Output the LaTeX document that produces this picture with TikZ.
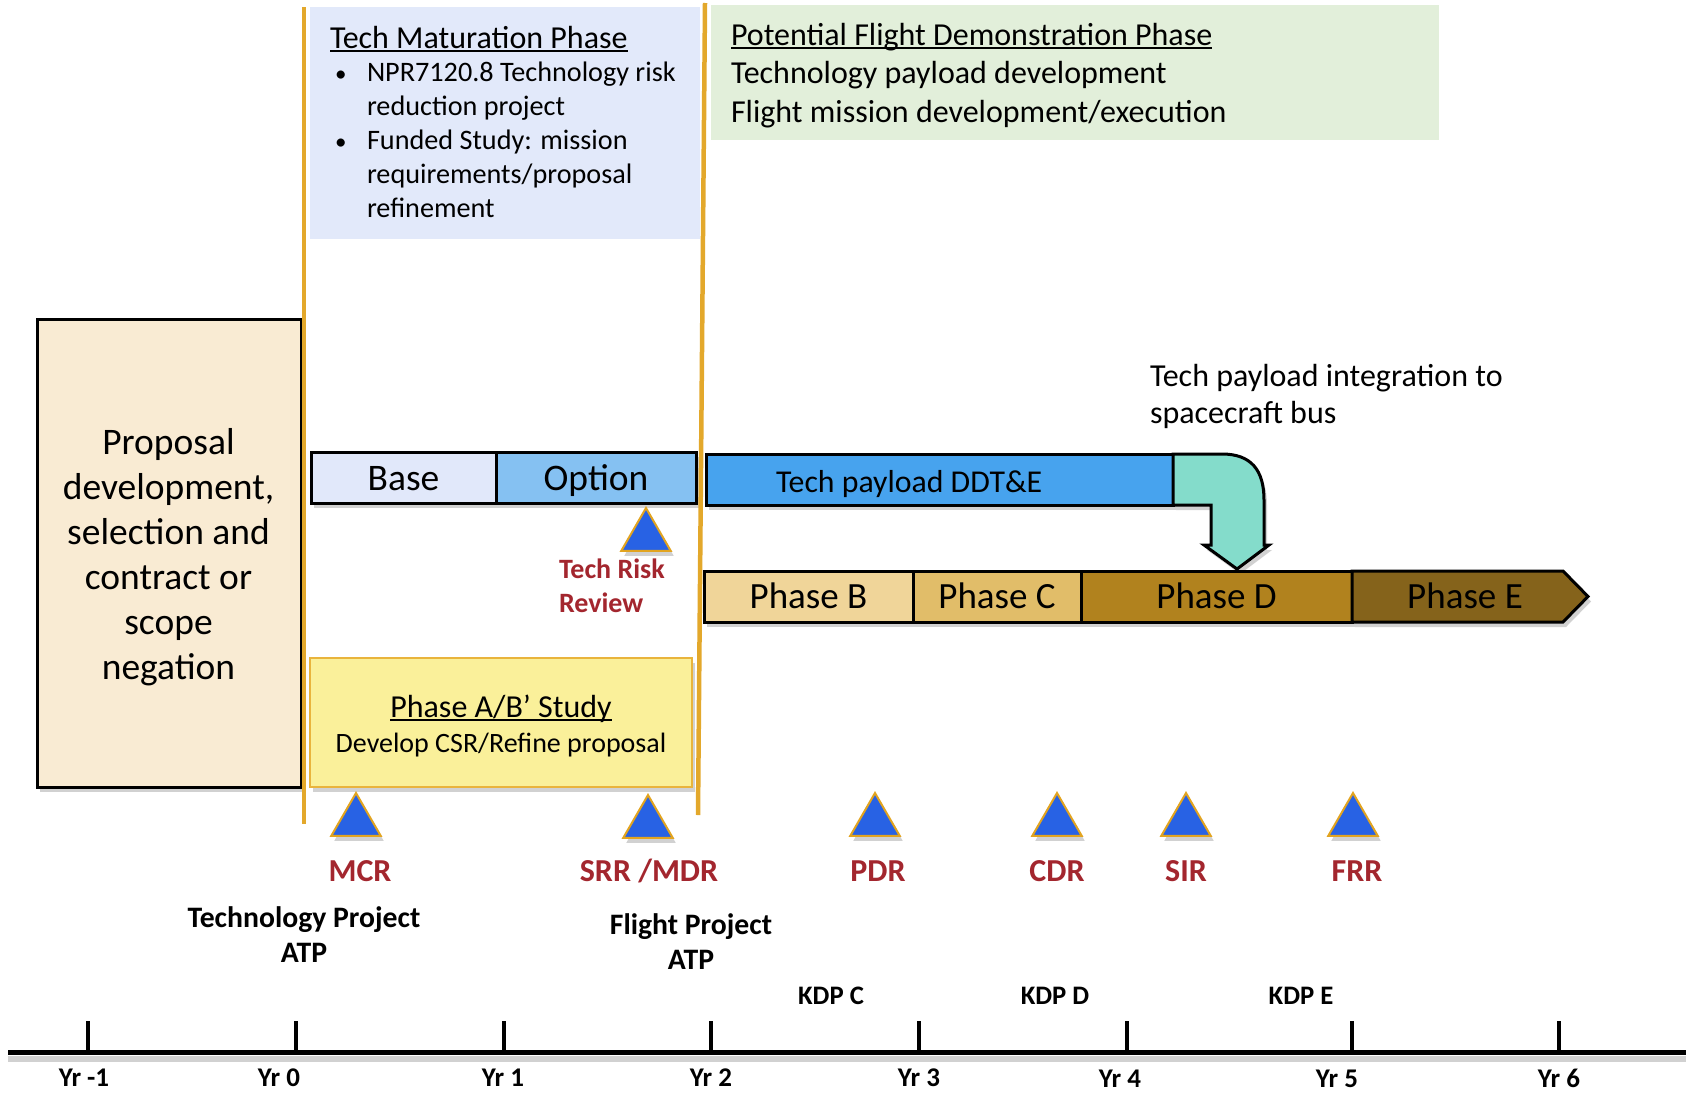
\documentclass[tikz,border=0pt]{standalone}
\usepackage{fontspec}
\setmainfont{Carlito}
\usetikzlibrary{shapes.geometric,shadows,calc}
\definecolor{propfill}{HTML}{F9EBD3}
\definecolor{tmfill}{HTML}{E2E9FA}
\definecolor{gfill}{HTML}{E2EFDA}
\definecolor{basefill}{HTML}{E1E8FA}
\definecolor{optfill}{HTML}{85C1F2}
\definecolor{ddtfill}{HTML}{47A3EE}
\definecolor{tealfill}{HTML}{84DCCB}
\definecolor{phBfill}{HTML}{F0D599}
\definecolor{phCfill}{HTML}{E1BD69}
\definecolor{phDfill}{HTML}{B1821E}
\definecolor{phEfill}{HTML}{85631B}
\definecolor{abfill}{HTML}{FAF09A}
\definecolor{abborder}{HTML}{E9B43C}
\definecolor{goldline}{HTML}{E3A82B}
\definecolor{triblue}{HTML}{2862E4}
\definecolor{trigold}{HTML}{E2A420}
\definecolor{lblred}{HTML}{A3262E}
\newcommand\myfs[2]{\fontsize{#1}{#2}\selectfont}
\newcommand\mybul{\makebox[32pt][l]{\fontsize{23}{23}\selectfont•}}
\newsavebox\myulbox
\newcommand\myul[1]{\sbox\myulbox{#1}\rlap{\rule[-4pt]{\wd\myulbox}{1.8pt}}\usebox\myulbox}
\tikzset{
  shad/.style={drop shadow={shadow xshift=3pt, shadow yshift=-5pt, fill=black!60, opacity=0.3}},
  blk/.style={draw=black, line width=3pt, inner sep=0pt, outer sep=0pt, shad},
  barbox/.style={blk, minimum height=51pt, anchor=north west, font=\myfs{37.5}{40}, text height=31pt, text depth=6pt},
  phasebox/.style={blk, minimum height=51pt, anchor=north west, font=\myfs{37}{40}, text height=29pt, text depth=6pt},
  tri/.style={regular polygon, regular polygon sides=3, minimum size=57pt, inner sep=0pt, fill=triblue, draw=trigold, line width=2pt, shad},
  redlbl/.style={text=lblred, font=\bfseries\myfs{32}{34}, anchor=base, inner sep=0pt},
  blklbl/.style={font=\bfseries\myfs{29.7}{35}, align=center, anchor=base, inner sep=0pt},
  kdp/.style={font=\bfseries\myfs{26.7}{30}, anchor=base, inner sep=0pt},
  yrlbl/.style={font=\bfseries\myfs{27}{30}, anchor=base, inner sep=0pt},
  orangeline/.style={draw=goldline, line width=4.5pt},
  plain/.style={inner sep=0pt, outer sep=0pt},
}
\begin{document}
\begin{tikzpicture}[x=1pt,y=-1pt]
\useasboundingbox (0,0) rectangle (1686,1092);

% phase background boxes
\node[plain, fill=tmfill, minimum width=390pt, minimum height=232pt, anchor=north west] (tmbox) at (310,7) {};
\node[plain, fill=gfill, minimum width=728pt, minimum height=135pt, anchor=north west] (fdbox) at (711,5) {};

\node[plain, anchor=base west, font=\myfs{32}{34}] (tmtitle) at (330,48) {\myul{Tech Maturation Phase}};
\node[plain, anchor=base west, align=left, font=\myfs{28.2}{34}] (tmlist) at (335,217)
  {\mybul NPR7120.8 Technology risk\\
   \hspace*{32pt}reduction project\\
   \mybul Funded Study: mission\\
   \hspace*{32pt}requirements/proposal\\
   \hspace*{32pt}refinement};

\node[plain, anchor=base west, align=left, font=\myfs{32}{38.5}] (fdtext) at (731,122)
  {\myul{Potential Flight Demonstration Phase}\\
   Technology payload development\\
   Flight mission development/execution};

% proposal box
\node[blk, fill=propfill, minimum width=264pt, minimum height=468pt, anchor=north west] (prop) at (37,319) {};
\node[plain, align=center, font=\myfs{37.5}{45}] (proptext) at (168.5,557.5)
  {Proposal\\development,\\selection and\\contract or\\scope\\negation};

% base / option
\node[barbox, fill=basefill, minimum width=185pt] (base) at (311,452) {Base};
\node[barbox, fill=optfill, minimum width=200pt] (opt) at (496,452) {Option};

% tech payload DDT&E
\node[blk, fill=ddtfill, minimum width=467pt, minimum height=51pt, anchor=north west] (ddte) at (706,454) {};
\node[plain, anchor=base west, font=\myfs{31.8}{34}] (ddtetext) at (776,492) {Tech payload DDT\&E};

% bent integration arrow
\draw[draw=black, line width=3pt, fill=tealfill, line join=miter, shad]
  (ddte.north east) -- (1222,454) .. controls (1251,454) and (1264,470) .. (1264,500)
  -- (1264,545) -- (1269,545) -- (1237,569) -- (1204,545) -- (1211,545) -- (1211,505)
  -- (ddte.south east) -- cycle;

\node[plain, anchor=base west, align=left, font=\myfs{32}{37}] (integ) at (1150,423)
  {Tech payload integration to\\spacecraft bus};

% phases B-E
\node[phasebox, fill=phBfill, minimum width=209pt] (phB) at (704,571) {Phase B};
\node[phasebox, fill=phCfill, minimum width=168pt] (phC) at (913,571) {Phase C};
\node[phasebox, fill=phDfill, minimum width=271pt] (phD) at (1081,571) {Phase D};
\path[draw=black, line width=3pt, fill=phEfill, line join=miter, shad]
  (phD.north east) -- ++(211,0) -- ++(25,25.5) -- ++(-25,25.5) -- (phD.south east) -- cycle;
\node[plain, font=\myfs{37}{40}, text height=29pt, text depth=6pt] (phE) at ($(phD.east)+(113,0)$) {Phase E};

% Phase A/B' study
\node[plain, fill=abfill, draw=abborder, line width=2pt, minimum width=382pt, minimum height=129pt,
      anchor=north west, shad] (abbox) at (310,658) {};
\node[plain, anchor=base, font=\myfs{32}{36}] (abtitle) at (501,717) {\myul{Phase A/B’ Study}};
\node[plain, anchor=base, font=\myfs{28}{32}] (absub) at (501,752) {Develop CSR/Refine proposal};

% orange phase separators
\draw[orangeline] (304,7) -- (304,824);
\draw[orangeline] (705,3) -- (698,815);

% milestones
\node[tri] (trr) at (646,536.5) {};
\node[tri] (mcr) at (356,821.5) {};
\node[tri] (srr) at (648,823.5) {};
\node[tri] (pdr) at (875,821.5) {};
\node[tri] (cdr) at (1057,821.5) {};
\node[tri] (sir) at (1186,821.5) {};
\node[tri] (frr) at (1353,821.5) {};

\node[plain, anchor=base west, align=left, text=lblred, font=\bfseries\myfs{28}{34}] (trrlbl) at (559,612) {Tech Risk\\Review};
\node[redlbl] (mcrlbl) at (360,881) {MCR};
\node[redlbl] (srrlbl) at (649,881) {SRR /MDR};
\node[redlbl] (pdrlbl) at (878,881) {PDR};
\node[redlbl] (cdrlbl) at (1057,881) {CDR};
\node[redlbl] (sirlbl) at (1186,881) {SIR};
\node[redlbl] (frrlbl) at (1357,881) {FRR};

\node[blklbl] (tpatp) at (304,962) {Technology Project\\ATP};
\node[blklbl] (fpatp) at (691,969) {Flight Project\\ATP};

\node[kdp] (kdpc) at (831,1004) {KDP C};
\node[kdp] (kdpd) at (1055,1004) {KDP D};
\node[kdp] (kdpe) at (1301,1004) {KDP E};

% timeline
\coordinate (axL) at (8,1052);
\coordinate (axR) at (1686,1052);
\draw[black!18, line width=6pt] ($(axL)+(0,7)$) -- ($(axR)+(0,7)$);
\draw[black, line width=5pt] (axL) -- (axR);
\foreach \x in {88,296,504,711,919,1127,1352,1559}
  \draw[black, line width=4pt] (\x,1021) -- (\x,1052);

\node[yrlbl] (ym1) at (84,1086) {Yr -1};
\node[yrlbl] (y0) at (279,1086) {Yr 0};
\node[yrlbl] (y1) at (503,1086) {Yr 1};
\node[yrlbl] (y2) at (711,1086) {Yr 2};
\node[yrlbl] (y3) at (919,1086) {Yr 3};
\node[yrlbl] (y4) at (1120,1087.5) {Yr 4};
\node[yrlbl] (y5) at (1337,1087.5) {Yr 5};
\node[yrlbl] (y6) at (1559,1087.5) {Yr 6};
\end{tikzpicture}
\end{document}
